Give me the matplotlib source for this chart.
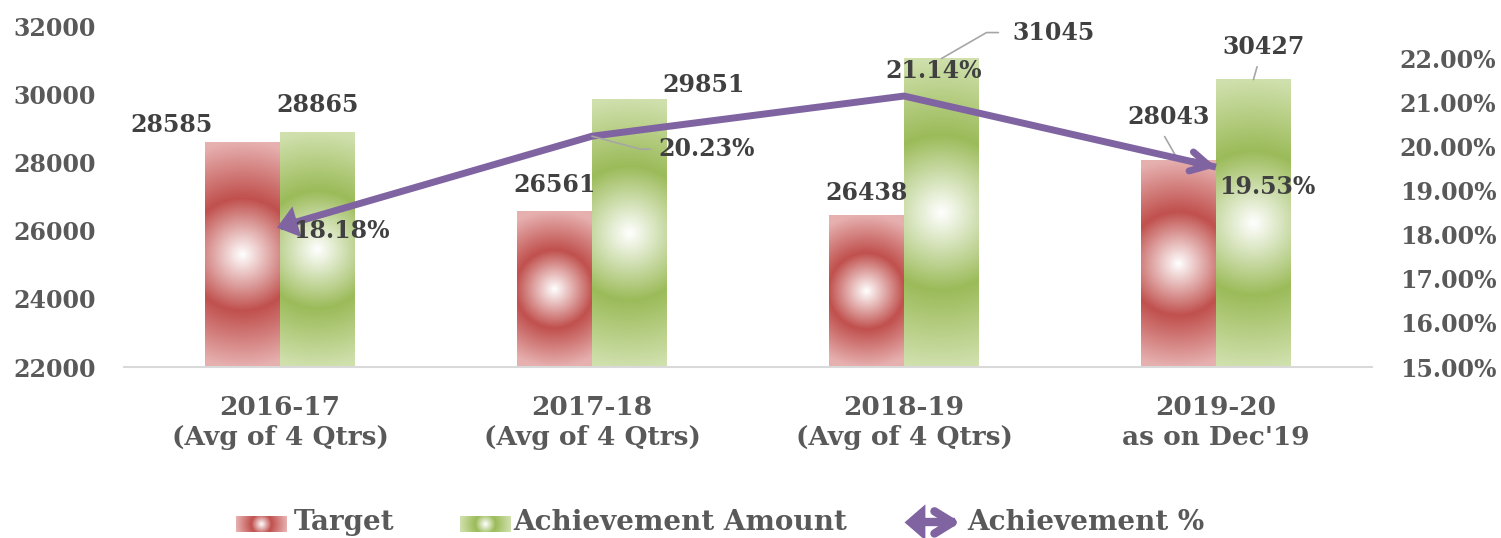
import numpy as np
import matplotlib
matplotlib.use("Agg")
import matplotlib.pyplot as plt
from matplotlib.colors import LinearSegmentedColormap

categories = ["2016-17\n(Avg of 4 Qtrs)", "2017-18\n(Avg of 4 Qtrs)",
              "2018-19\n(Avg of 4 Qtrs)", "2019-20\nas on Dec'19"]
target = [28585, 26561, 26438, 28043]
achievement = [28865, 29851, 31045, 30427]
achievement_pct = [18.18, 20.23, 21.14, 19.53]

left_ticks = [22000, 24000, 26000, 28000, 30000, 32000]
right_ticks = [15, 16, 17, 18, 19, 20, 21, 22]

# label offsets in pixels (moved by hand in the original)
target_off = [(-71, 17), (0, 26), (0, 23), (-10, 44)]
achv_off = [(0, 28), (74, 14), (112, 26), (10, 33)]
pct_off = [(61, -4), (115, -13), (30, 25), (51, -20)]

RED, RED_LIGHT = "#C0504D", "#E6B0AF"
GREEN, GREEN_LIGHT = "#9BBB59", "#D0E0AD"
PURPLE = "#8064A2"
GREY = "#595959"
DARK = "#404040"

plt.rcParams["font.family"] = ["DejaVu Serif"]
plt.rcParams["font.weight"] = "bold"
FS = 17

W, H = 1501, 538
fig = plt.figure(figsize=(W / 100, H / 100), dpi=100)
ax = fig.add_axes([124 / W, (H - 367) / H, 1248 / W, 341 / H])
ax2 = ax.twinx()

ax.set_xlim(-0.5, 3.5)
ax.set_ylim(22000, 32000)
ax2.set_ylim(15, 15 + 340 / 44)

bw = 0.24
ax_w_px = 1248
ax_h_px = 341


def gradient_bar(x0, x1, top, c_mid, c_edge):
    cmap = LinearSegmentedColormap.from_list("g", [(0, "white"), (0.5, c_mid), (1, c_edge)])
    wpx = (x1 - x0) / 4.0 * ax_w_px
    hpx = (top - 22000) / 10000 * ax_h_px
    ny, nx = 240, 60
    yy, xx = np.mgrid[0:ny, 0:nx]
    dx = (xx + 0.5) / nx * wpx - wpx / 2
    dy = (yy + 0.5) / ny * hpx - hpx / 2
    r = np.clip(np.hypot(dx, dy) / (hpx / 2), 0, 1)
    ax.imshow(r, cmap=cmap, vmin=0, vmax=1, extent=[x0, x1, 22000, top],
              origin="lower", aspect="auto", interpolation="bilinear", zorder=2)


for i in range(len(categories)):
    gradient_bar(i - bw, i, target[i], RED, RED_LIGHT)
    gradient_bar(i, i + bw, achievement[i], GREEN, GREEN_LIGHT)

ax.set_xlim(-0.5, 3.5)
ax.set_ylim(22000, 32000)

lead = dict(arrowstyle="-", color="#A6A6A6", lw=1.2, shrinkA=2, shrinkB=0)
for i in range(len(categories)):
    kw = {}
    if i == 3:
        kw = dict(arrowprops=dict(lead, relpos=(0.4, 0.0), shrinkA=4))
    ax.annotate(str(target[i]), (i - bw / 2, target[i]), xytext=target_off[i],
                textcoords="offset pixels", ha="center", va="center",
                fontsize=FS, color=DARK, zorder=5, **kw)
    kw = {}
    if i == 2:
        kw = dict(arrowprops=dict(lead, relpos=(0.0, 0.5), shrinkA=8,
                                  connectionstyle="angle,angleA=0,angleB=30,rad=0"))
    elif i == 3:
        kw = dict(arrowprops=dict(lead, relpos=(0.45, 0.0), shrinkA=4))
    ax.annotate(str(achievement[i]), (i + bw / 2, achievement[i]), xytext=achv_off[i],
                textcoords="offset pixels", ha="center", va="center",
                fontsize=FS, color=DARK, zorder=5, **kw)

xs = np.arange(len(categories))
ax2.plot(xs, achievement_pct, color=PURPLE, lw=5, solid_capstyle="butt", zorder=3)
# arrow heads at both ends of the line
ax2.annotate("", xy=(xs[0] - 0.01, achievement_pct[0] - 0.01 * (achievement_pct[1] - achievement_pct[0])),
             xytext=(xs[0] + 0.08, achievement_pct[0] + 0.08 * (achievement_pct[1] - achievement_pct[0])),
             arrowprops=dict(arrowstyle="-|>,head_length=1.5,head_width=1.15", color=PURPLE,
                             lw=0, mutation_scale=10, shrinkA=0, shrinkB=0))
ax2.annotate("", xy=(xs[-1], achievement_pct[-1]),
             xytext=(xs[-1] - 0.08, achievement_pct[-1] - 0.08 * (achievement_pct[-1] - achievement_pct[-2])),
             arrowprops=dict(arrowstyle="->,head_length=1.3,head_width=0.7", color=PURPLE,
                             lw=5, mutation_scale=10, shrinkA=0, shrinkB=0, capstyle="round"))

for i, v in enumerate(achievement_pct):
    kw = {}
    if i == 1:
        kw = dict(arrowprops=dict(lead, relpos=(0.0, 0.5), shrinkA=4,
                                  connectionstyle="angle,angleA=0,angleB=-15,rad=0"))
    ax2.annotate(f"{v:.2f}%", (xs[i], v), xytext=pct_off[i], textcoords="offset pixels",
                 ha="center", va="center", fontsize=FS, color=DARK, zorder=6, **kw)

ax.set_xticks(xs)
ax.set_xticklabels(categories, color=GREY, fontsize=19, linespacing=1.27)
ax.set_yticks(left_ticks)
ax.set_yticklabels([str(t) for t in left_ticks])
ax2.set_yticks(right_ticks)
ax2.set_yticklabels([f"{t:.2f}%" for t in right_ticks])
ax.tick_params(axis="x", length=0, pad=20)
ax.tick_params(axis="y", length=0, pad=20, labelsize=FS, labelcolor=GREY)
ax2.tick_params(axis="y", length=0, pad=20, labelsize=FS, labelcolor=GREY)

for a in (ax, ax2):
    for s in ("top", "left", "right", "bottom"):
        a.spines[s].set_visible(False)
ax.spines["bottom"].set_visible(True)
ax.spines["bottom"].set_color("#D9D9D9")
ax.spines["bottom"].set_linewidth(1.5)


# legend drawn by hand at the bottom edge
def swatch(x0, c_mid, c_edge):
    sax = fig.add_axes([x0 / W, (H - 532) / H, 51 / W, 16 / H])
    cmap = LinearSegmentedColormap.from_list("s", [(0, "white"), (0.4, c_mid), (1, c_edge)])
    yy, xx = np.mgrid[-1:1:32j, -1:1:100j]
    r = np.clip(np.hypot(xx * 1.0, yy * 0.3), 0, 1)
    sax.imshow(r, cmap=cmap, vmin=0, vmax=1, aspect="auto", interpolation="bilinear")
    sax.axis("off")


LFS = 20
swatch(236, RED, RED_LIGHT)
swatch(460, GREEN, GREEN_LIGHT)
fig.text(294 / W, 8 / H, "Target", fontsize=LFS, color=GREY, va="baseline")
fig.text(513 / W, 8 / H, "Achievement Amount", fontsize=LFS, color=GREY, va="baseline")
fig.text(967 / W, 8 / H, "Achievement %", fontsize=LFS, color=GREY, va="baseline")
lax = fig.add_axes([900 / W, 2 / H, 65 / W, 34 / H])
lax.set_xlim(0, 1)
lax.set_ylim(0, 1)
lax.axis("off")
lax.plot([0.15, 0.85], [0.4, 0.4], color=PURPLE, lw=6, solid_capstyle="butt")
lax.annotate("", xy=(0.07, 0.4), xytext=(0.35, 0.4),
             arrowprops=dict(arrowstyle="-|>,head_length=1.5,head_width=1.3", color=PURPLE,
                             lw=0, mutation_scale=10, shrinkA=0, shrinkB=0))
lax.annotate("", xy=(0.93, 0.4), xytext=(0.6, 0.4),
             arrowprops=dict(arrowstyle="->,head_length=1.3,head_width=0.8", color=PURPLE,
                             lw=6, mutation_scale=10, shrinkA=0, shrinkB=0))

fig.savefig("out.png", dpi=100)
